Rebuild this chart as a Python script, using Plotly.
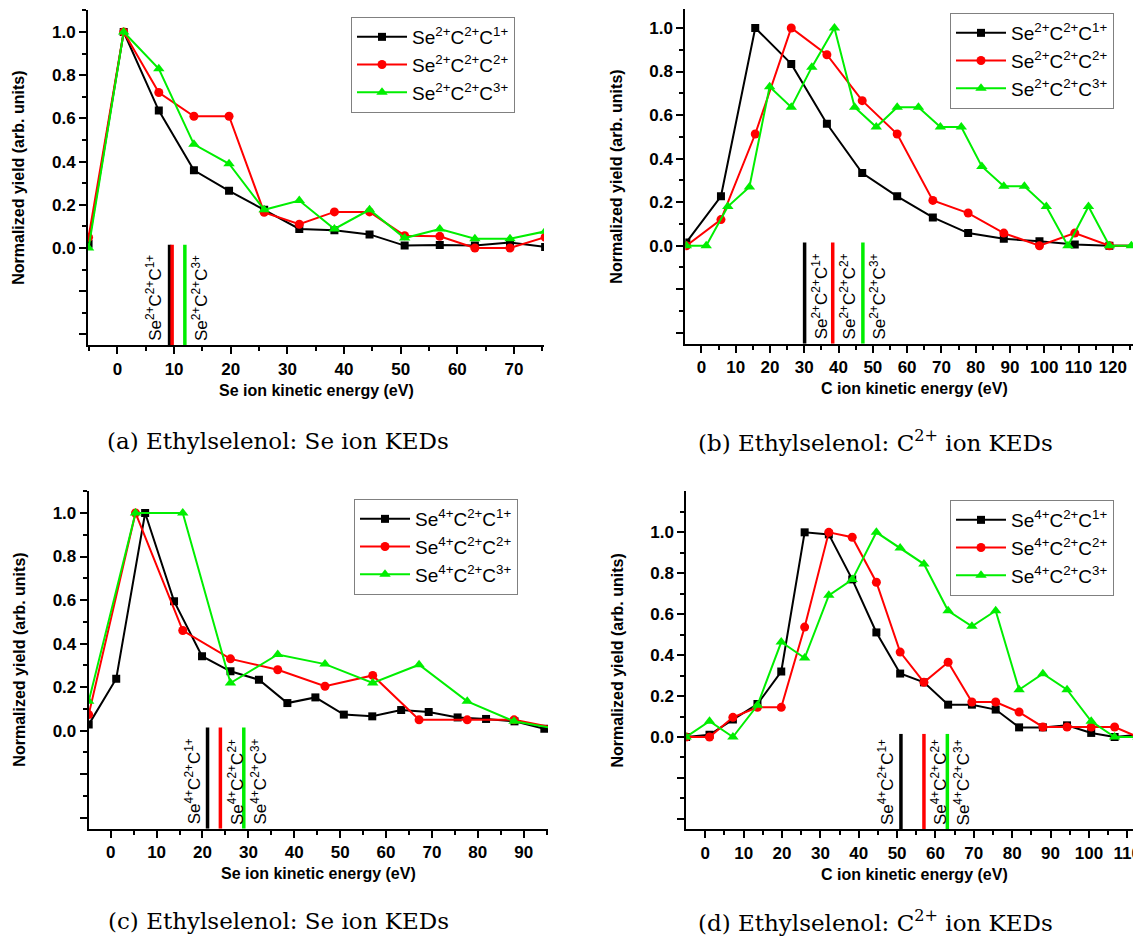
import plotly.graph_objects as go

W, H = 1141, 936

# ---------------- data ----------------
# (a) Se ion KEDs, Se2+ channels
a_x = [-5.1, 1.1, 7.3, 13.5, 19.7, 25.9, 32.1, 38.3, 44.5, 50.7, 56.9, 63.1, 69.3, 75.5]
a_c1 = [0.02, 1.0, 0.636, 0.36, 0.265, 0.177, 0.088, 0.082, 0.063, 0.011, 0.014, 0.012, 0.025, 0.005]
a_c2 = [0.05, 1.0, 0.72, 0.61, 0.61, 0.165, 0.11, 0.167, 0.167, 0.057, 0.054, 0.0, 0.0, 0.05]
a_c3 = [0.0, 1.0, 0.83, 0.48, 0.39, 0.177, 0.22, 0.088, 0.177, 0.046, 0.088, 0.043, 0.043, 0.077]
a_kin = [9.2, 9.65, 11.9]

# (b) C ion KEDs, Se2+ channels
b_x12 = [-4.4, 5.7, 15.7, 26.2, 36.6, 46.9, 57.1, 67.5, 77.8, 88.2, 98.6, 108.9, 119.0, 129.3]
b_c1 = [0.015, 0.227, 1.0, 0.835, 0.56, 0.334, 0.227, 0.13, 0.058, 0.032, 0.02, 0.005, 0.0, 0.0]
b_c2 = [0.0, 0.12, 0.513, 1.0, 0.877, 0.666, 0.513, 0.208, 0.15, 0.058, 0.0, 0.058, 0.0, 0.0]
b_x3 = [-4.4, 1.4, 7.7, 14.0, 19.9, 26.2, 32.2, 38.8, 44.7, 51.0, 57.1, 63.3, 69.7, 75.8,
        81.8, 88.2, 94.2, 100.6, 106.9, 112.9, 119.0, 125.4, 131.6]
b_c3 = [0.0, 0.0, 0.18, 0.27, 0.73, 0.636, 0.82, 1.0, 0.636, 0.545, 0.636, 0.636, 0.545, 0.545,
        0.364, 0.273, 0.273, 0.18, 0.0, 0.18, 0.0, 0.0, 0.0]
b_kin = [30.1, 38.3, 47.1]

# (c) Se ion KEDs, Se4+ channels
c_x1 = [-4.8, 1.2, 7.5, 13.8, 19.9, 26.1, 32.3, 38.5, 44.6, 50.8, 57.0, 63.3, 69.3, 75.6, 81.8, 88.0, 94.5]
c_c1 = [0.028, 0.239, 1.0, 0.595, 0.342, 0.273, 0.234, 0.127, 0.153, 0.074, 0.066, 0.095, 0.086,
        0.061, 0.054, 0.043, 0.009]
c_x23 = [-4.8, 5.4, 15.7, 26.1, 36.4, 46.7, 57.1, 67.2, 77.7, 87.9, 98.2]
c_c2 = [0.074, 1.0, 0.46, 0.33, 0.28, 0.204, 0.254, 0.05, 0.05, 0.05, 0.008]
c_c3 = [0.135, 1.0, 1.0, 0.219, 0.35, 0.306, 0.219, 0.303, 0.135, 0.043, 0.005]
c_kin = [21.1, 23.9, 29.0]

# (d) C ion KEDs, Se4+ channels
d_x = [-5.0, 1.1, 7.2, 13.6, 19.8, 25.9, 32.2, 38.3, 44.6, 50.8, 57.0, 63.3, 69.5, 75.7,
       81.8, 88.0, 94.3, 100.6, 106.7, 112.8]
d_c1 = [0.0, 0.011, 0.085, 0.161, 0.32, 1.0, 0.99, 0.77, 0.511, 0.31, 0.267, 0.158, 0.158, 0.134,
        0.047, 0.047, 0.057, 0.02, 0.0, 0.011]
d_c2 = [0.0, 0.0, 0.096, 0.145, 0.145, 0.537, 1.0, 0.976, 0.756, 0.415, 0.267, 0.365, 0.171, 0.171,
        0.122, 0.049, 0.049, 0.049, 0.049, 0.0]
d_c3 = [0.0, 0.077, 0.0, 0.155, 0.464, 0.386, 0.692, 0.769, 1.0, 0.923, 0.845, 0.617, 0.541, 0.617,
        0.231, 0.309, 0.231, 0.077, 0.0, 0.0]
d_kin = [51.0, 57.0, 63.1]

names_2 = ["Se<sup>2+</sup>C<sup>2+</sup>C<sup>1+</sup>",
           "Se<sup>2+</sup>C<sup>2+</sup>C<sup>2+</sup>",
           "Se<sup>2+</sup>C<sup>2+</sup>C<sup>3+</sup>"]
names_4 = ["Se<sup>4+</sup>C<sup>2+</sup>C<sup>1+</sup>",
           "Se<sup>4+</sup>C<sup>2+</sup>C<sup>2+</sup>",
           "Se<sup>4+</sup>C<sup>2+</sup>C<sup>3+</sup>"]

x_titles = ["Se ion kinetic energy (eV)", "C ion kinetic energy (eV)",
            "Se ion kinetic energy (eV)", "C ion kinetic energy (eV)"]
y_title = "Normalized yield (arb. units)"
captions = ["(a) Ethylselenol: Se ion KEDs",
            "(b) Ethylselenol: C<sup>2+</sup> ion KEDs",
            "(c) Ethylselenol: Se ion KEDs",
            "(d) Ethylselenol: C<sup>2+</sup> ion KEDs"]

COLORS = ["#000000", "#ff0000", "#00ee00"]
SYMBOLS = ["square", "circle", "triangle-up"]
SIZES = [8, 9, 10]

# ---------------- layout geometry (pixels) ----------------
panels = [
    dict(xr=[-5.2, 75.3], xd=[80, 536], yr=[-0.45, 1.1], yd=[2.4, 337.2], xmax=70,
         series=[(a_x, a_c1), (a_x, a_c2), (a_x, a_c3)], names=names_2, kin=a_kin,
         labside=["left", None, "right"], leg=(343, 9)),
    dict(xr=[-4.7, 128.8], xd=[677.3, 1135], yr=[-0.45, 1.087], yd=[1, 335.7], xmax=120,
         series=[(b_x12, b_c1), (b_x12, b_c2), (b_x3, b_c3)], names=names_2, kin=b_kin,
         labside=["right", "right", "right"], leg=(942, 5)),
    dict(xr=[-4.8, 95.3], xd=[80.7, 540], yr=[-0.45, 1.1], yd=[483.2, 820.7], xmax=90,
         series=[(c_x1, c_c1), (c_x23, c_c2), (c_x23, c_c3)], names=names_4, kin=c_kin,
         labside=["left", "right", "right"], leg=(346, 491)),
    dict(xr=[-4.95, 114.1], xd=[678.3, 1135], yr=[-0.45, 1.2], yd=[483.4, 821.1], xmax=110,
         series=[(d_x, d_c1), (d_x, d_c2), (d_x, d_c3)], names=names_4, kin=d_kin,
         labside=["left", "right", "right"], leg=(942, 492)),
]

FONT = "Liberation Sans"
fig = go.Figure()
annotations = []

ymaj = [-0.4, -0.2, 0.0, 0.2, 0.4, 0.6, 0.8, 1.0]
ymaj_txt = ["", "", "<b>0.0</b>", "<b>0.2</b>", "<b>0.4</b>", "<b>0.6</b>", "<b>0.8</b>", "<b>1.0</b>"]
ymin = [-0.3, -0.1, 0.1, 0.3, 0.5, 0.7, 0.9, 1.1]

for i, p in enumerate(panels):
    n = i + 1
    xa = "x" if n == 1 else f"x{n}"
    ya = "y" if n == 1 else f"y{n}"
    leg = "legend" if n == 1 else f"legend{n}"
    xdom = [p["xd"][0] / W, p["xd"][1] / W]
    ydom = [1 - p["yd"][1] / H, 1 - p["yd"][0] / H]
    xmaj = list(range(0, p["xmax"] + 1, 10))
    xmin = [v for v in range(-5, p["xmax"] + 11, 10)]

    for k, (sx, sy) in enumerate(p["series"]):
        fig.add_trace(go.Scatter(
            x=sx, y=sy, mode="lines+markers", name=p["names"][k],
            line=dict(color=COLORS[k], width=2),
            marker=dict(symbol=SYMBOLS[k], size=SIZES[k], color=COLORS[k]),
            xaxis=xa, yaxis=ya, legend=leg, showlegend=True))

    # kinematic marker lines
    for k, kv in enumerate(p["kin"]):
        fig.add_trace(go.Scatter(
            x=[kv, kv], y=[p["yr"][0], 0.015], mode="lines",
            line=dict(color=COLORS[k], width=3.5),
            xaxis=xa, yaxis=ya, showlegend=False, hoverinfo="skip"))
        side = p["labside"][k]
        if side is not None:
            annotations.append(dict(
                x=kv, y=p["yr"][0], xref=xa, yref=ya, text=p["names"][k],
                textangle=-90, showarrow=False,
                xanchor="right" if side == "left" else "left", yanchor="bottom",
                xshift=-2 if side == "left" else 2, yshift=2,
                font=dict(family=FONT, size=17, color="black")))

    axfont = dict(family=FONT, size=17, color="black")
    common_x = dict(range=p["xr"], domain=xdom, showgrid=False, zeroline=False,
                    showline=True, linewidth=2, linecolor="black",
                    tickmode="array", tickvals=xmaj, ticklen=7, tickwidth=1.5, tickcolor="black",
                    minor=dict(tickmode="array", tickvals=xmin, ticklen=4, tickwidth=1.5,
                               tickcolor="black"))
    common_y = dict(range=p["yr"], domain=ydom, showgrid=False, zeroline=False,
                    showline=True, linewidth=2, linecolor="black",
                    tickmode="array", tickvals=ymaj, ticktext=ymaj_txt,
                    ticklen=7, tickwidth=1.5, tickcolor="black",
                    minor=dict(tickmode="array", tickvals=ymin, ticklen=4, tickwidth=1.5,
                               tickcolor="black"))
    ax_x = dict(common_x, anchor=ya, ticks="outside", tickfont=axfont,
                ticktext=[f"<b>{v}</b>" for v in xmaj])
    ax_y = dict(common_y, anchor=xa, ticks="outside", tickfont=axfont)
    ax_x["minor"] = dict(common_x["minor"], ticks="outside")
    ax_y["minor"] = dict(common_y["minor"], ticks="outside")
    top_x = dict(common_x, anchor=ya, overlaying=xa, side="top", ticks="inside",
                 showticklabels=False)
    top_x["minor"] = dict(common_x["minor"], ticks="inside")
    right_y = dict(common_y, anchor=xa, overlaying=ya, side="right", ticks="inside",
                   showticklabels=False)
    right_y["minor"] = dict(common_y["minor"], ticks="inside")

    fig.layout[("xaxis" if n == 1 else f"xaxis{n}")] = ax_x
    fig.layout[("yaxis" if n == 1 else f"yaxis{n}")] = ax_y
    fig.layout[f"xaxis{n + 4}"] = top_x
    fig.layout[f"yaxis{n + 4}"] = right_y

    fig.layout[leg] = dict(
        x=p["leg"][0] / W, y=1 - p["leg"][1] / H, xanchor="left", yanchor="top",
        xref="paper", yref="paper", itemwidth=50,
        bgcolor="white", bordercolor="#808080", borderwidth=1,
        font=dict(family=FONT, size=19, color="black"), tracegroupgap=0)

    # axis titles
    xc = (p["xd"][0] + p["xd"][1]) / 2
    yc = (p["yd"][0] + p["yd"][1]) / 2
    annotations.append(dict(
        x=xc / W, y=1 - (p["yd"][1] + 45) / H, xref="paper", yref="paper",
        text=x_titles[i], showarrow=False, xanchor="center", yanchor="middle",
        font=dict(family=FONT, size=16, color="black", weight="bold")))
    annotations.append(dict(
        x=(p["xd"][0] - 69) / W, y=1 - yc / H, xref="paper", yref="paper",
        text=y_title, showarrow=False, textangle=-90, xanchor="center", yanchor="middle",
        font=dict(family=FONT, size=16, color="black", weight="bold")))
    # captions
    cap_x = 270 if i % 2 == 0 else 867
    cap_y = 433 if i < 2 else 913
    annotations.append(dict(
        x=cap_x / W, y=1 - cap_y / H, xref="paper", yref="paper",
        text=captions[i], showarrow=False, xanchor="center", yanchor="middle",
        borderpad=0,
        font=dict(family="DejaVu Serif", size=23, color="black")))

fig.update_layout(
    width=W, height=H, margin=dict(l=0, r=0, t=0, b=0),
    paper_bgcolor="white", plot_bgcolor="white",
    annotations=annotations, showlegend=True)

fig.write_html("out.html")
